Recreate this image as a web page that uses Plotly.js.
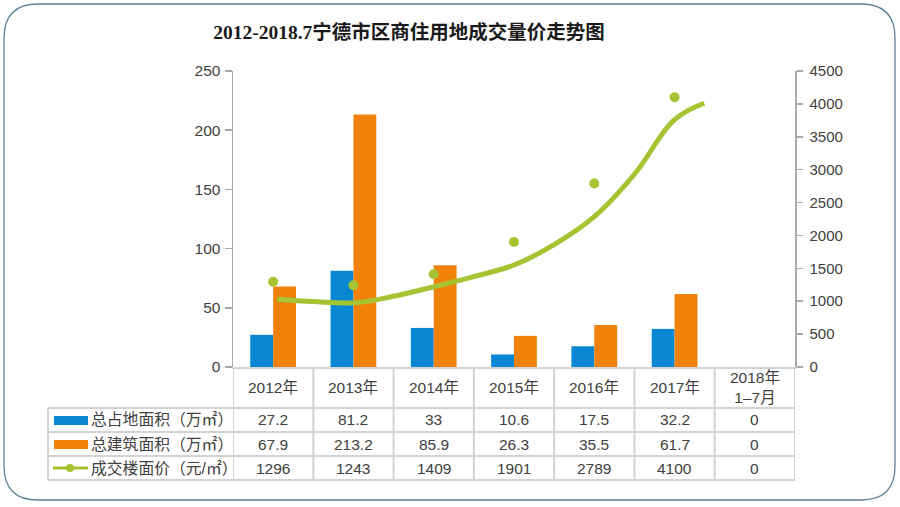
<!DOCTYPE html>
<html>
<head>
<meta charset="utf-8">
<script src="https://cdn.plot.ly/plotly-3.0.1.min.js"></script>
<style>
html,body{margin:0;padding:0;background:#fff;}
#chart{width:900px;height:507px;}
</style>
</head>
<body>
<div id="chart"></div>
<script>
// ---- data ----
var categories = ["2012年", "2013年", "2014年", "2015年", "2016年", "2017年", "2018年<br>1–7月"];
var landArea = [27.2, 81.2, 33, 10.6, 17.5, 32.2, 0];       // 总占地面积（万㎡）
var buildArea = [67.9, 213.2, 85.9, 26.3, 35.5, 61.7, 0];   // 总建筑面积（万㎡）
var price = [1296, 1243, 1409, 1901, 2789, 4100, 0];        // 成交楼面价（元/㎡）
var seriesNames = ["总占地面积（万㎡）", "总建筑面积（万㎡）", "成交楼面价（元/㎡）"];
// trend line (category index position, value)
var trendPos = [0.05, 0.5, 1, 1.5, 2, 2.5, 3, 3.5, 4, 4.5, 5, 5.37];
var trendVal = [1030, 995, 975, 1075, 1220, 1375, 1550, 1860, 2285, 2930, 3760, 4010];
var leftTicks = [0, 50, 100, 150, 200, 250];
var rightTicks = [0, 500, 1000, 1500, 2000, 2500, 3000, 3500, 4000, 4500];

// ---- styling ----
var BLUE = "#0a87d2", ORANGE = "#f0820c", GREEN = "#a6c431";
var GRID = "#d3d3d3", AXIS = "#a9a9a9", TXT = "#404040";
var FONT = "Liberation Sans, Noto Sans CJK SC, sans-serif";
var L = 233, R = 795, T = 71, B = 367;
function px(xp){ return (xp - L) / (R - L); }
function py(yp){ return (B - yp) / (B - T); }

var priceX = [], priceY = [];
for (var i = 0; i < price.length; i++) { if (price[i] > 0) { priceX.push(categories[i]); priceY.push(price[i]); } }

var traces = [
  {type: "bar", x: categories, y: landArea, name: seriesNames[0], marker: {color: BLUE}, hoverinfo: "y"},
  {type: "bar", x: categories, y: buildArea, name: seriesNames[1], marker: {color: ORANGE}, hoverinfo: "y"},
  {type: "scatter", mode: "lines", x: trendPos, y: trendVal, xaxis: "x2", yaxis: "y2",
   line: {color: GREEN, width: 5, shape: "spline", smoothing: 1.1}, hoverinfo: "skip"},
  {type: "scatter", mode: "markers", x: priceX, y: priceY, yaxis: "y2", name: seriesNames[2],
   marker: {color: GREEN, size: 10}}
];

var shapes = [];
var annotations = [];
// outer rounded frame
(function(){
  var x0 = 4, x1 = 895, y0 = 4, y1 = 500, r = 34;
  var p = "M " + px(x0 + r) + "," + py(y0) +
    " L " + px(x1 - r) + "," + py(y0) +
    " Q " + px(x1) + "," + py(y0) + " " + px(x1) + "," + py(y0 + r) +
    " L " + px(x1) + "," + py(y1 - r) +
    " Q " + px(x1) + "," + py(y1) + " " + px(x1 - r) + "," + py(y1) +
    " L " + px(x0 + r) + "," + py(y1) +
    " Q " + px(x0) + "," + py(y1) + " " + px(x0) + "," + py(y1 - r) +
    " L " + px(x0) + "," + py(y0 + r) +
    " Q " + px(x0) + "," + py(y0) + " " + px(x0 + r) + "," + py(y0) + " Z";
  shapes.push({type: "path", xref: "paper", yref: "paper", path: p,
    line: {color: "#5f8397", width: 1.3}, layer: "below"});
})();

// table grid
var rowLines = [408, 432, 456, 480];
rowLines.forEach(function(y){
  shapes.push({type: "line", xref: "paper", yref: "paper", x0: px(48), x1: px(R), y0: py(y), y1: py(y),
    line: {color: GRID, width: 2}});
});
for (var c = 0; c <= categories.length; c++) {
  shapes.push({type: "line", xref: "x", yref: "paper", x0: c - 0.5, x1: c - 0.5, y0: py(367), y1: py(480),
    line: {color: GRID, width: 2}});
}
shapes.push({type: "line", xref: "paper", yref: "paper", x0: px(48), x1: px(48), y0: py(408), y1: py(480),
  line: {color: GRID, width: 2}});

// header row (categories)
categories.forEach(function(cat, i){
  annotations.push({xref: "x", yref: "paper", x: i, y: py(387), text: cat, showarrow: false,
    font: {family: FONT, size: 15.5, color: TXT}, yanchor: "middle", xanchor: "center"});
});
// value rows
var rows = [landArea, buildArea, price];
var rowY = [420, 444, 468];
rows.forEach(function(arr, r){
  arr.forEach(function(v, i){
    annotations.push({xref: "x", yref: "paper", x: i, y: py(rowY[r]), text: String(v), showarrow: false,
      font: {family: FONT, size: 15.5, color: TXT}, yanchor: "middle", xanchor: "center"});
  });
  annotations.push({xref: "paper", yref: "paper", x: px(89), y: py(rowY[r]), text: seriesNames[r], showarrow: false,
    font: {family: FONT, size: 15.8, color: TXT}, yanchor: "middle", xanchor: "left"});
});
// legend keys
shapes.push({type: "rect", xref: "paper", yref: "paper", x0: px(54), x1: px(88), y0: py(416), y1: py(425),
  fillcolor: BLUE, line: {width: 0}});
shapes.push({type: "rect", xref: "paper", yref: "paper", x0: px(54), x1: px(88), y0: py(440), y1: py(449),
  fillcolor: ORANGE, line: {width: 0}});
shapes.push({type: "line", xref: "paper", yref: "paper", x0: px(53), x1: px(88), y0: py(468), y1: py(468),
  line: {color: GREEN, width: 3}});
shapes.push({type: "circle", xref: "paper", yref: "paper", x0: px(66), x1: px(74), y0: py(464), y1: py(472),
  fillcolor: GREEN, line: {width: 0}});

var layout = {
  width: 900, height: 507,
  margin: {l: L, r: 900 - R, t: T, b: 507 - B, pad: 0},
  paper_bgcolor: "#ffffff", plot_bgcolor: "rgba(0,0,0,0)",
  title: {text: "2012-2018.7宁德市区商住用地成交量价走势图", x: 409 / 900, xanchor: "center", y: 1 - 32 / 507, yanchor: "middle",
    font: {family: "Liberation Serif, Noto Sans CJK SC, serif", size: 19.5, color: "#1a1a1a", weight: "bold"}},
  showlegend: false,
  barmode: "group", bargap: 0.43, bargroupgap: 0,
  xaxis: {type: "category", showticklabels: false, ticks: "", showgrid: false, zeroline: false,
    showline: true, linecolor: GRID, linewidth: 2, range: [-0.5, 6.5], fixedrange: true},
  xaxis2: {overlaying: "x", range: [-0.5, 6.5], visible: false, fixedrange: true},
  yaxis: {range: [0, 250], tickvals: leftTicks, ticks: "outside", ticklen: 7, tickwidth: 1.5, tickcolor: AXIS,
    showline: true, linecolor: AXIS, linewidth: 1.5, showgrid: false, zeroline: false,
    tickfont: {family: FONT, size: 15.5, color: TXT}, ticklabelstandoff: 1},
  yaxis2: {overlaying: "y", side: "right", range: [0, 4500], tickvals: rightTicks, ticks: "outside", ticklen: 6,
    tickwidth: 1.5, tickcolor: AXIS, showline: true, linecolor: AXIS, linewidth: 1.5, showgrid: false, zeroline: false,
    tickfont: {family: FONT, size: 15, color: TXT}, ticklabelstandoff: 4},
  shapes: shapes,
  annotations: annotations
};

Plotly.newPlot("chart", traces, layout, {displayModeBar: false, staticPlot: true});
</script>
</body>
</html>
